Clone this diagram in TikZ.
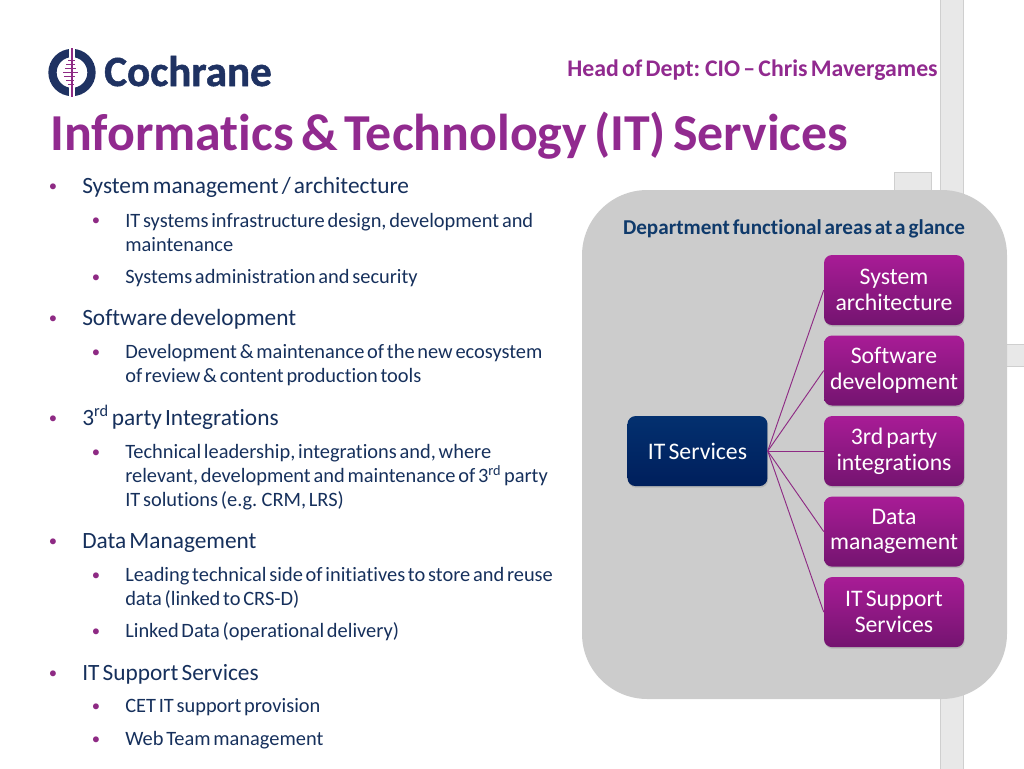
\documentclass[tikz,border=0pt]{standalone}
\usepackage{fontspec}
\setmainfont[Ligatures=NoCommon, WordSpace=0.6]{Carlito}
\usetikzlibrary{positioning, shadows}
\definecolor{cochpurple}{HTML}{912A8F}
\definecolor{cochnavy}{HTML}{1F3262}
\definecolor{headblue}{HTML}{0F3A6B}
\definecolor{panelgray}{HTML}{CCCCCC}
\definecolor{bargray}{HTML}{E8E8E8}
\definecolor{barline}{HTML}{CFCFCF}
\definecolor{linepurple}{HTML}{8E2A84}
\definecolor{bodyblue}{HTML}{16305C}
\definecolor{purpletop}{HTML}{A81C96}
\definecolor{purplebot}{HTML}{741470}
\definecolor{bluetop}{HTML}{03306F}
\definecolor{bluebot}{HTML}{001F5C}
\tikzset{
	bar/.style={
		draw=barline,
		fill=bargray,
		line width=0.6pt
	},
	areabox/.style={
		rectangle,
		rounded corners=6pt,
		minimum width=105pt,
		minimum height=52.5pt,
		inner sep=0pt,
		align=center,
		text=white,
		font=\fontsize{17.8}{19.2}\selectfont,
		drop shadow={opacity=0.3, shadow xshift=0.5pt, shadow yshift=-1.2pt}
	},
	purplebox/.style={
		areabox,
		top color=purpletop,
		bottom color=purplebot
	},
	bluebox/.style={
		areabox,
		top color=bluetop,
		bottom color=bluebot
	},
	itemone/.style={
		anchor=base west,
		inner sep=0pt,
		text=bodyblue,
		font=\fontsize{17.5}{18}\selectfont
	},
	itemtwo/.style={
		anchor=base west,
		inner sep=0pt,
		align=left,
		text=bodyblue,
		font=\fontsize{15.3}{18}\selectfont
	},
	dot/.style={
		anchor=base,
		inner sep=0pt,
		text=linepurple,
		font=\fontsize{12.5}{12.5}\selectfont
	},
	link/.style={
		draw=linepurple,
		line width=0.7pt
	}
}

\begin{document}
\begin{tikzpicture}[
		x=0.75pt,
		y=-0.75pt,
	]

	\useasboundingbox (0,0) rectangle (1024,768);

	% The bars behind the panel
	\draw[bar] (940,-2) rectangle (963,770);
	\draw[bar] (894,172) rectangle (931,195);
	\draw[bar] (990,344) rectangle (1026,366);

	% The logo
	\draw[cochnavy, line width=6.2pt] (72,72.5) circle (19.5);
	\fill[white] (69,46) rectangle (75,99);
	\draw[linepurple, line width=0.8pt] (72,48) -- (72,97);
	\foreach \yy/\xa/\xb in {60/68/75, 64/66/75, 68/65/76, 72/63/78, 76/64/75, 80/66/74, 84/68/74}
		\draw[linepurple, line width=0.7pt] (\xa,\yy) -- (\xb,\yy);
	\node[anchor=base west, inner sep=0pt, text=cochnavy, font=\fontsize{32.3}{31}\selectfont\bfseries\addfontfeature{FakeBold=1.2}] (logo) at (104,86) {Cochrane};

	% The headings
	\node[anchor=base east, inner sep=0pt, text=cochpurple, font=\fontsize{17.85}{18}\selectfont\bfseries] (head) at (938,76) {Head of Dept: CIO – Chris Mavergames};
	\node[anchor=base west, inner sep=0pt, text=cochpurple, font=\fontsize{38.9}{40}\selectfont\bfseries] (title) at (50,150) {Informatics \& Technology (IT) Services};

	% The list on the left
	\foreach \yy in {191,323,423,546,678}
		\node[dot] (a\yy) at (53,\yy) {•};
	\foreach \yy in {225,282,357,457,580,636,711,744}
		\node[dot] (b\yy) at (96,\yy) {•};

	\node[itemone] (sysman) at (82,193) {System management / architecture};
	\node[itemtwo, anchor=north west] (sysinfra) at (125,213) {IT systems infrastructure design, development and\\maintenance};
	\node[itemtwo] (sysadmin) at (125,283) {Systems administration and security};
	\node[itemone] (softdev) at (82,325) {Software development};
	\node[itemtwo, anchor=north west] (softeco) at (125,344) {Development \& maintenance of the new ecosystem\\of review \& content production tools};
	\node[itemone] (third) at (82,425) {3\textsuperscript{rd} party Integrations};
	\node[itemtwo, anchor=north west] (thirdtech) at (125,444) {Technical leadership, integrations and, where\\relevant, development and maintenance of 3\textsuperscript{rd} party\\IT solutions (e.g. CRM, LRS)};
	\node[itemone] (datam) at (82,548) {Data Management};
	\node[itemtwo, anchor=north west] (dataside) at (125,567) {Leading technical side of initiatives to store and reuse\\data (linked to CRS-D)};
	\node[itemtwo] (datalink) at (125,637) {Linked Data (operational delivery)};
	\node[itemone] (itsup) at (82,680) {IT Support Services};
	\node[itemtwo] (itcet) at (125,712) {CET IT support provision};
	\node[itemtwo] (itweb) at (125,745) {Web Team management};

	% The panel and what is on it
	\fill[panelgray, rounded corners=49pt] (582,190) rectangle (1007,699);
	\node[anchor=base, inner sep=0pt, text=headblue, font=\fontsize{15.85}{18}\selectfont\bfseries] (glance) at (794,234) {Department functional areas at a glance};

	\node[purplebox] (sys) at (894,290) {System\\architecture};
	\node[purplebox, below=7.5pt of sys] (soft) {Software\\development};
	\node[purplebox, below=7.5pt of soft] (party) {3rd party\\integrations};
	\node[purplebox, below=7.5pt of party] (data) {Data\\management};
	\node[purplebox, below=7.5pt of data] (sup) {IT Support\\Services};
	\node[bluebox, left=42pt of party] (it) {IT Services};

	\foreach \to in {sys,soft,party,data,sup}
		\draw[link] (it.east) -- (\to.west);

\end{tikzpicture}
\end{document}
